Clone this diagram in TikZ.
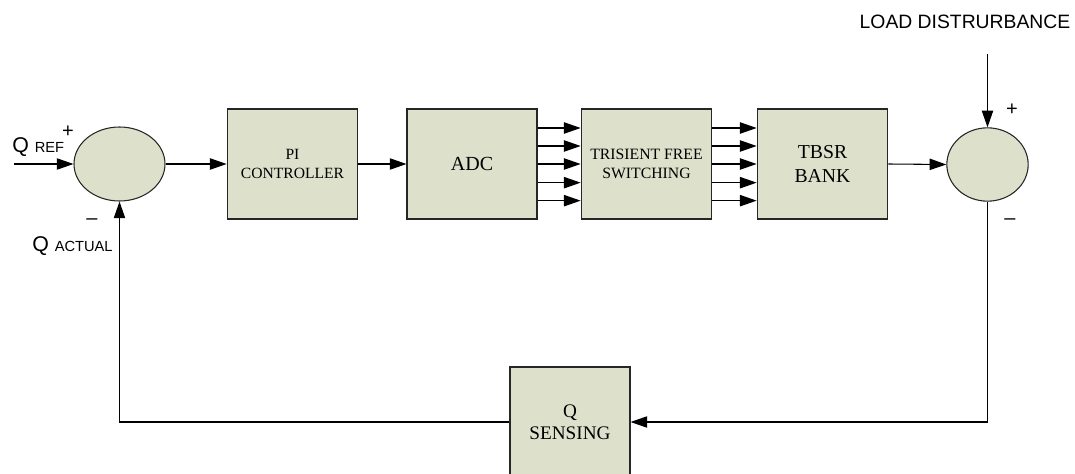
\documentclass[tikz,border=0pt]{standalone}
\usepackage{fontspec}
\setmainfont{Liberation Serif}
\newfontfamily\arialf{Liberation Sans}
\usetikzlibrary{arrows.meta,shapes.geometric}
\definecolor{boxfill}{RGB}{221,225,203}
\tikzset{
  blk/.style={draw=black!85, line width=0.8pt, fill=boxfill, rectangle, inner sep=0pt,
    minimum width=98pt, minimum height=82.5pt, align=center},
  sumj/.style={draw=black!85, line width=0.8pt, fill=boxfill, ellipse, inner sep=0pt},
  arr/.style={line width=0.8pt, -{Triangle[length=12.5pt,width=8.5pt]}},
  sgn/.style={font=\arialf\fontsize{15}{15}\selectfont, inner sep=0pt},
  lbl/.style={font=\arialf, inner sep=0pt}
}
\begin{document}
\begin{tikzpicture}[x=0.75pt,y=-0.75pt]
\useasboundingbox (0,0) rectangle (1075,474);
% summing junctions
\node[sumj, minimum width=68.25pt, minimum height=55.5pt] (S1) at (119.5,164) {};
\node[sumj, minimum width=61pt, minimum height=55pt] (S2) at (987.5,164.5) {};
% blocks
\node[blk, font=\fontsize{11.7}{14}\selectfont] (PI) at (292.5,164) {PI\\CONTROLLER};
\node[blk, minimum width=97.5pt, font=\fontsize{15}{17}\selectfont] (ADC) at (472,164) {ADC};
\node[blk, font=\fontsize{11.8}{14}\selectfont] (TSF) at (646.5,164) {TRISIENT FREE\\SWITCHING};
\node[blk, font=\fontsize{14.8}{18}\selectfont] (TB) at (822.5,164) {TBSR\\BANK};
\node[blk, minimum width=90pt, font=\fontsize{14.4}{16.5}\selectfont] (QS) at (570,422) {Q\\SENSING};
% input
\coordinate (qin) at (14,164);
\draw[arr] (qin) -- (S1.west);
\node[lbl, anchor=base west] (qref) at (12,153) {\fontsize{16}{16}\selectfont Q {\fontsize{11}{11}\selectfont REF}};
\node[sgn] (p1) at (68,132) {+};
\node[sgn] (m1) at (92,222) {\textendash};
\node[lbl, anchor=base west] (qact) at (32,252) {\fontsize{16}{16}\selectfont Q {\fontsize{11}{11}\selectfont ACTUAL}};
% forward path
\draw[arr] (S1.east) -- (PI.west);
\draw[arr] (PI.east) -- (ADC.west);
\foreach \d in {27,13.5,0,-14,-27.5}{
  \draw[arr] ([yshift=\d pt]ADC.east) -- ([yshift=\d pt]TSF.west);
  \draw[arr] ([yshift=\d pt]TSF.east) -- ([yshift=\d pt]TB.west);
}
\draw[arr] (TB.east) -- (S2.west);
% load disturbance
\coordinate (ld) at (987.5,54);
\draw[arr] (ld) -- (S2.north);
\node[lbl, font=\arialf\fontsize{14.5}{15}\selectfont] (ldt) at (965,22) {LOAD DISTRURBANCE};
\node[sgn] (p2) at (1012,110) {+};
\node[sgn] (m2) at (1010,222) {\textendash};
% feedback
\draw[arr] (S2.south) |- (QS.east);
\draw[arr] (QS.west) -| (S1.south);
\end{tikzpicture}
\end{document}
